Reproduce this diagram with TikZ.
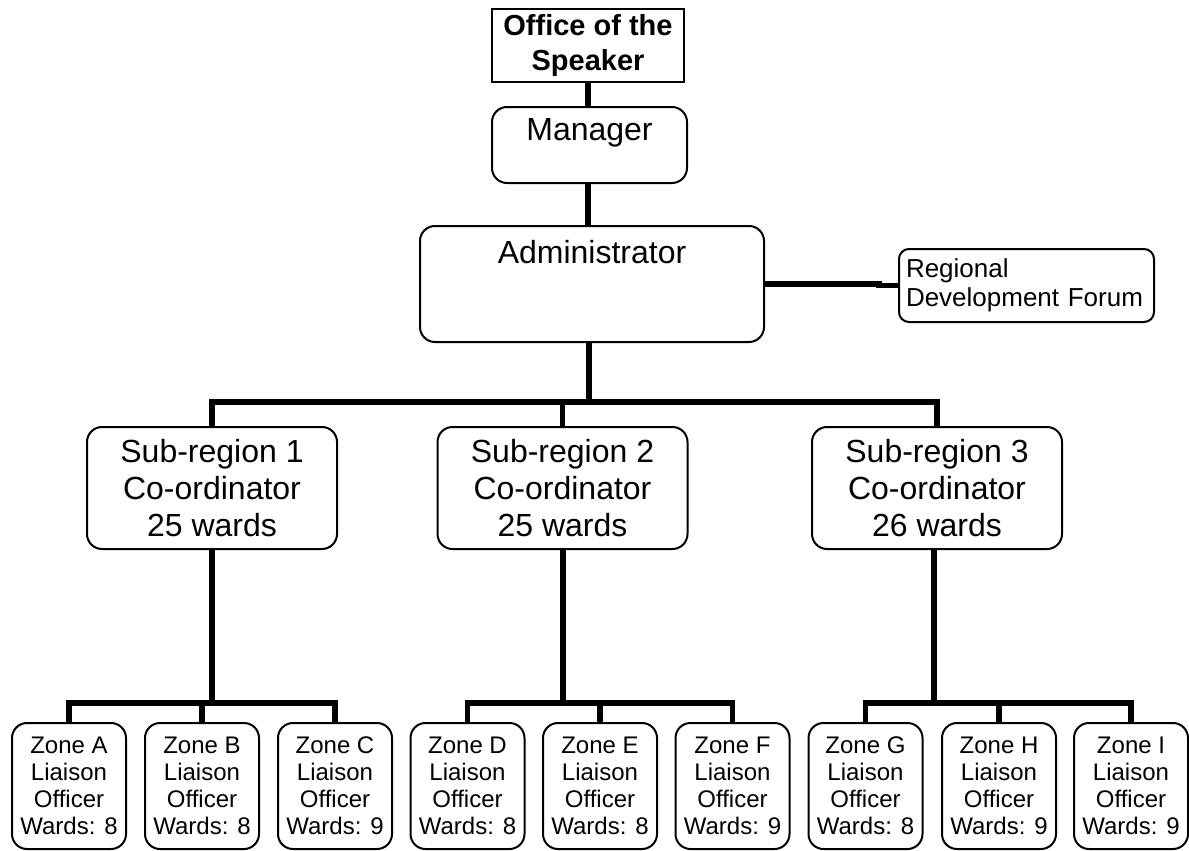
\documentclass[tikz,border=0pt]{standalone}
\usepackage{fontspec}
\setmainfont{Liberation Sans}
\begin{document}
\begin{tikzpicture}[x=0.5pt,y=-0.5pt,
  box/.style={draw,line width=1pt,rounded corners=7.5pt,inner sep=0pt,align=center},
  speakerbox/.style={draw,line width=1pt,inner sep=0pt,align=center,minimum width=96pt,minimum height=36.5pt,font=\fontsize{14.5}{17.5}\selectfont\bfseries},
  subbox/.style={box,minimum width=125pt,minimum height=61pt,font=\fontsize{16}{18.3}\selectfont},
  zonebox/.style={box,minimum width=57pt,minimum height=63pt,font=\fontsize{12}{13.5}\selectfont},
  conn/.style={line width=2.75pt}]
\useasboundingbox (0,0) rectangle (1189,851);
% top
\node[speakerbox] (spk) at (588,45.5) {Office of the\\Speaker};
\node[box,anchor=north,minimum width=97.5pt,text height=16.5pt,text depth=21.5pt,font=\fontsize{16}{18.3}\selectfont] (mgr) at (589.5,106) {Manager};
\node[box,anchor=north,minimum width=172pt,text height=18.5pt,text depth=39.5pt,font=\fontsize{16}{18.3}\selectfont] (adm) at (592,225) {Administrator};
\node[box,rounded corners=5pt,minimum width=127.5pt,minimum height=36.5pt,text width=120.5pt,align=left,inner xsep=3.5pt,font=\fontsize{13}{14.7}\selectfont] (frm) at (1026.5,285.5) {Regional\\Development Forum};
% sub-regions
\node[subbox] (s1) at (212,488) {Sub-region 1\\Co-ordinator\\25 wards};
\node[subbox] (s2) at (562.5,488) {Sub-region 2\\Co-ordinator\\25 wards};
\node[subbox] (s3) at (937,488) {Sub-region 3\\Co-ordinator\\26 wards};
% zones
\node[zonebox] (zA) at (69,786) {Zone A\\Liaison\\Officer\\Wards: 8};
\node[zonebox] (zB) at (202,786) {Zone B\\Liaison\\Officer\\Wards: 8};
\node[zonebox] (zC) at (335,786) {Zone C\\Liaison\\Officer\\Wards: 9};
\node[zonebox] (zD) at (467.5,786) {Zone D\\Liaison\\Officer\\Wards: 8};
\node[zonebox] (zE) at (600,786) {Zone E\\Liaison\\Officer\\Wards: 8};
\node[zonebox] (zF) at (732.5,786) {Zone F\\Liaison\\Officer\\Wards: 9};
\node[zonebox] (zG) at (865.5,786) {Zone G\\Liaison\\Officer\\Wards: 8};
\node[zonebox] (zH) at (999,786) {Zone H\\Liaison\\Officer\\Wards: 9};
\node[zonebox] (zI) at (1131,786) {Zone I\\Liaison\\Officer\\Wards: 9};
% bus coordinates
\coordinate (b0) at (589,402);
\coordinate (b1) at (212,703);
\coordinate (b2) at (563,703);
\coordinate (b3) at (934,703);
% connectors
\draw[conn] (spk.south -| 588,0) -- (mgr.north -| 588,0);
\draw[conn] (mgr.south -| 588,0) -- (adm.north -| 588,0);
\draw[conn] (adm.east) -- ++(114,0) |- (frm.west);
\draw[conn] (adm.south -| b0) -- (b0);
\draw[conn] (s1.north) |- (b0) -| (s3.north);
\draw[conn] (s2.north) -- (s2.north |- b0);
\draw[conn] (s1.south) -- (b1);
\draw[conn] (zA.north) |- (b1) -| (zC.north);
\draw[conn] (zB.north) -- (zB.north |- b1);
\draw[conn] (s2.south -| b2) -- (b2);
\draw[conn] (zD.north) |- (b2) -| (zF.north);
\draw[conn] (zE.north) -- (zE.north |- b2);
\draw[conn] (s3.south -| b3) -- (b3);
\draw[conn] (zG.north) |- (b3) -| (zI.north);
\draw[conn] (zH.north) -- (zH.north |- b3);
\end{tikzpicture}
\end{document}
